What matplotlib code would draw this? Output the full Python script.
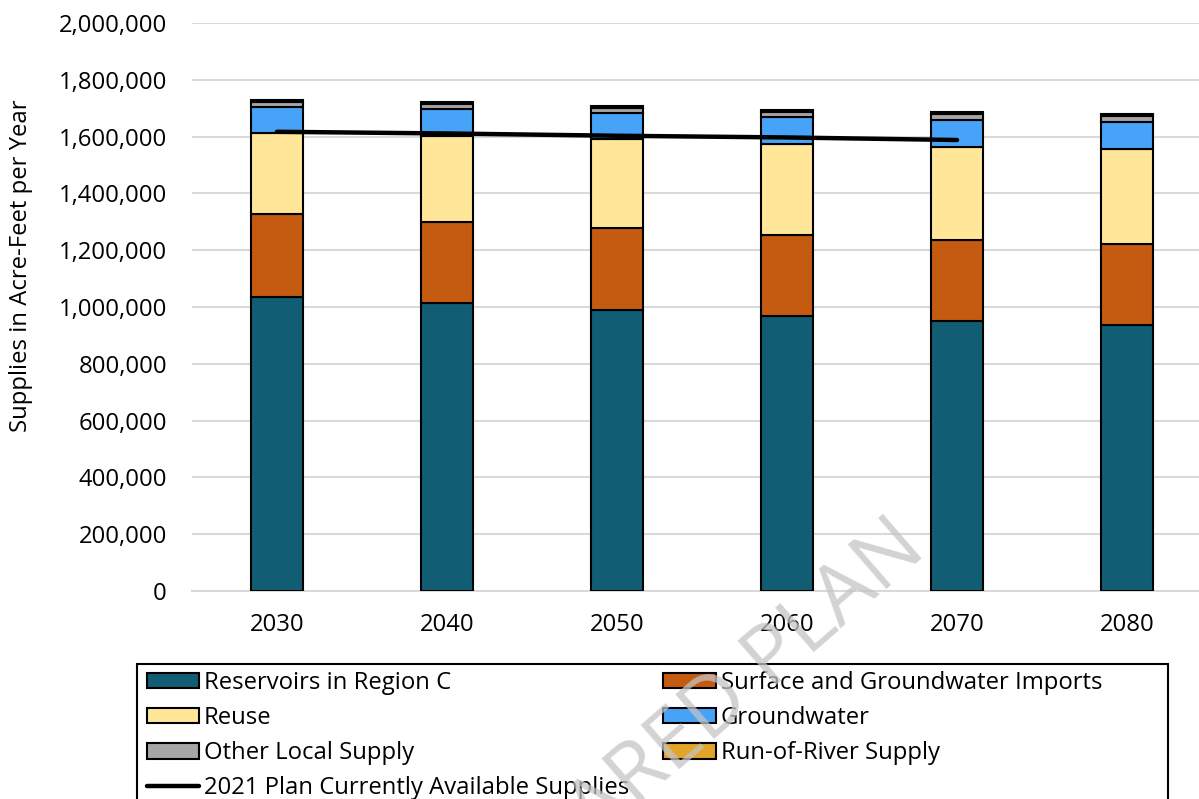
import matplotlib.pyplot as plt
from matplotlib.patches import Rectangle
import numpy as np

plt.rcParams['font.family'] = ['Open Sans', 'DejaVu Sans']

years = ['2030', '2040', '2050', '2060', '2070', '2080']
reservoirs = [1036000, 1015000, 989000, 968000, 951000, 937000]
imports = [290000, 285000, 288000, 286000, 285000, 284000]
reuse = [286000, 303000, 313000, 321000, 329000, 335000]
groundwater = [92000, 94000, 94000, 94000, 95000, 97000]
other_local = [18000, 18000, 17000, 16000, 18000, 18000]
run_of_river = [8000, 8000, 8000, 8000, 8000, 8000]
plan_2021 = [1617000, 1611000, 1603000, 1597000, 1588000]

series = [
    ('Reservoirs in Region C', reservoirs, '#115E74'),
    ('Surface and Groundwater Imports', imports, '#C55A11'),
    ('Reuse', reuse, '#FFE699'),
    ('Groundwater', groundwater, '#47A3F7'),
    ('Other Local Supply', other_local, '#A6A6A6'),
    ('Run-of-River Supply', run_of_river, '#E3A42A'),
]

FS = 17.2
W, H = 1199, 799
fig = plt.figure(figsize=(W / 100, H / 100), dpi=100)
ax = fig.add_axes([192 / W, 1 - 591 / H, 1020 / W, 568 / H])

x = np.arange(len(years))
bottom = np.zeros(len(years))
handles = {}
for name, vals, color in series:
    b = ax.bar(x, vals, width=0.31, bottom=bottom, color=color,
               edgecolor='black', linewidth=1.5, label=name, zorder=3)
    handles[name] = b
    bottom += np.array(vals)

line, = ax.plot(x[:len(plan_2021)], plan_2021, color='black', linewidth=3.2,
                solid_capstyle='round', zorder=4,
                label='2021 Plan Currently Available Supplies')

ax.set_xlim(-0.5, 5.5)
ax.set_ylim(0, 2000000)
ax.set_yticks(np.arange(0, 2000001, 200000))
ax.yaxis.set_major_formatter(plt.FuncFormatter(lambda v, p: f'{int(v):,}'))
ax.set_xticks(x)
ax.set_xticklabels(years)
ax.tick_params(axis='both', length=0, labelsize=FS)
ax.tick_params(axis='y', pad=18)
ax.tick_params(axis='x', pad=16)
ax.grid(axis='y', color='#D9D9D9', linewidth=1.5, zorder=0)
for s in ['top', 'right', 'left']:
    ax.spines[s].set_visible(False)
ax.spines['bottom'].set_color('#D9D9D9')
ax.spines['bottom'].set_linewidth(1.5)
ax.set_ylabel('Supplies in Acre-Feet per Year', fontsize=FS)
ax.yaxis.set_label_coords((33 - 192) / 1020, (591 - 266) / 568)

# legend frame drawn by hand, it runs off the bottom of the picture
fig.patches.append(Rectangle((137 / W, -0.05), (1168 - 137) / W, 0.05 + 1 - 664 / H,
                             transform=fig.transFigure, fill=False,
                             edgecolor='black', linewidth=1.5, zorder=5))

order = ['Reservoirs in Region C', 'Reuse', 'Other Local Supply', None,
         'Surface and Groundwater Imports', 'Groundwater', 'Run-of-River Supply']
hs = [line if n is None else handles[n] for n in order]
ls = ['2021 Plan Currently Available Supplies' if n is None else n for n in order]
leg = fig.legend(hs, ls, ncol=2, loc='upper left',
                 bbox_to_anchor=(142 / W, 1 - 666 / H), fontsize=FS,
                 frameon=False, handlelength=2.2, handleheight=0.62,
                 handletextpad=0.2, labelspacing=0.47, columnspacing=1.42,
                 borderpad=0.2, borderaxespad=0)

fig.text(928 / W, 1 - 553 / H, 'INITIALLY PREPARED PLAN', fontsize=60,
         color='#C4C4C4', alpha=0.75, rotation=41, rotation_mode='anchor',
         ha='right', va='baseline', zorder=10)

fig.savefig('out.png', dpi=100)
